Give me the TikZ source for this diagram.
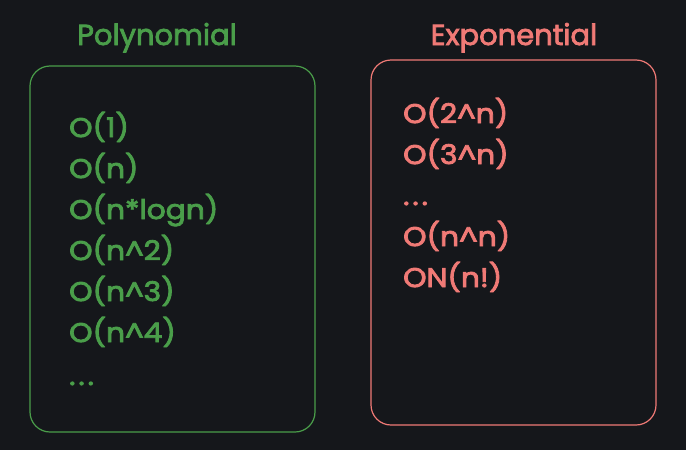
\documentclass[tikz,border=0pt]{standalone}
\usepackage{fontspec}
\setmainfont{Poppins}
\newfontfamily\medfont[FakeBold=3,FakeStretch=1.1]{Poppins}
\newfontfamily\ttlfont[FakeBold=2.5]{Poppins}
\definecolor{bg}{HTML}{15171B}
\definecolor{grn}{HTML}{4A9E4A}
\definecolor{rd}{HTML}{F07A76}
\tikzset{
  panel/.style={draw, line width=1.2pt, rounded corners=20pt, inner sep=0pt},
  item/.style={anchor=base west, inner sep=0pt, font=\medfont\fontsize{27}{30}\selectfont},
  title/.style={anchor=base, inner sep=0pt, font=\ttlfont\fontsize{29}{34}\selectfont},
}
\newcommand{\crt}{\textasciicircum}
\newcommand{\dts}{.\kern3pt.\kern3pt.}
\begin{document}
\begin{tikzpicture}[x=1pt,y=-1pt]
\fill[bg] (0,0) rectangle (686,450);
\useasboundingbox (0,0) rectangle (686,450);
% panels
\node[panel, grn, minimum width=285pt, minimum height=366pt] (poly) at (172.5,249) {};
\node[panel, rd, minimum width=285pt, minimum height=365pt] (expo) at (513.5,242.5) {};
% titles
\node[title, text=grn] (tpoly) at (157,45) {Polynomial};
\node[title, text=rd] (texpo) at (514,45) {Exponential};
% polynomial items
\begin{scope}[text=grn]
\node[item] (g1) at (69,137) {O(1)};
\node[item] (g2) at (69,178) {O(n)};
\node[item] (g3) at (69,219) {O(n*logn)};
\node[item] (g4) at (69,260) {O(n\crt 2)};
\node[item] (g5) at (69,301) {O(n\crt 3)};
\node[item] (g6) at (69,342) {O(n\crt 4)};
\node[item] (g7) at (69,385) {\dts};
\end{scope}
\begin{scope}[text=rd]
\node[item] (r1) at (403,123) {O(2\crt n)};
\node[item] (r2) at (403,164) {O(3\crt n)};
\node[item] (r3) at (403,205) {\dts};
\node[item] (r4) at (403,246) {O(n\crt n)};
\node[item] (r5) at (403,287) {ON(n!)};
\end{scope}
\end{tikzpicture}
\end{document}
